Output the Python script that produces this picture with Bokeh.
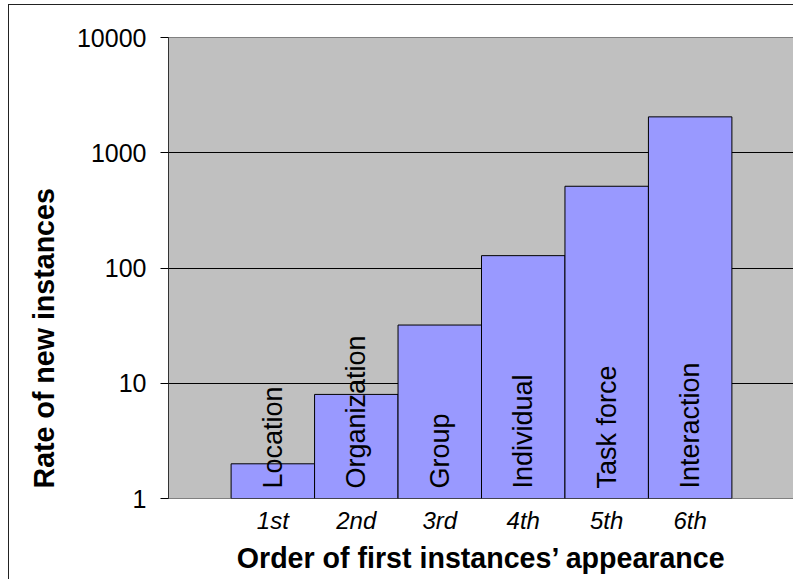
import math
from bokeh.plotting import figure
from bokeh.models import (Range1d, FixedTicker, ColumnDataSource, LabelSet, Title)
from bokeh.core.properties import value
from bokeh.embed import file_html
from bokeh.resources import INLINE

# ---- data ----
orders = ["1st", "2nd", "3rd", "4th", "5th", "6th"]
entities = ["Location", "Organization", "Group", "Individual", "Task force", "Interaction"]
rates = [2, 8, 32, 128, 512, 2048]
y_ticks = [1, 10, 100, 1000, 10000]
y_tick_labels = ["1", "10", "100", "1000", "10000"]
x_title = "Order of first instances\u2019 appearance"
y_title = "Rate of new instances"

positions = list(range(1, len(orders) + 1))
bases = [1] * len(orders)

W, H = 785, 575
FONT = "Liberation Sans"

p = figure(width=W, height=H, output_backend="svg", toolbar_location=None,
           y_axis_type="log",
           x_range=Range1d(-0.25, 7.25), y_range=Range1d(1, 10000),
           min_border_left=159, min_border_right=0,
           min_border_top=32, min_border_bottom=H - 493)
p.background_fill_color = "#C0C0C0"
p.border_fill_color = "white"
p.outline_line_color = "#808080"
p.outline_line_width = 1
p.styles = {"border-left": "1px solid #222222", "border-top": "1px solid #222222",
            "margin-left": "8px", "margin-top": "4px"}

src = ColumnDataSource(dict(x=positions, top=rates, bottom=bases, name=entities))
p.vbar(x="x", top="top", bottom="bottom", width=1.0, source=src,
       fill_color="#9999FF", line_color="black", line_width=1)

labels = LabelSet(x="x", y="bottom", text="name", source=src, angle=math.pi / 2,
                  text_align="left", text_baseline="middle", y_offset=10,
                  text_font=value(FONT), text_font_size=value("27px"),
                  text_color="black")
p.add_layout(labels)

# grid
p.xgrid.visible = False
p.ygrid.ticker = FixedTicker(ticks=y_ticks)
p.ygrid.grid_line_color = "black"
p.ygrid.grid_line_width = 1

# y axis
p.yaxis.ticker = FixedTicker(ticks=y_ticks)
p.yaxis.major_label_overrides = {t: l for t, l in zip(y_ticks, y_tick_labels)}
p.yaxis.axis_line_color = "#333333"
p.yaxis.major_tick_line_color = "black"
p.yaxis.major_tick_out = 8
p.yaxis.major_tick_in = 0
p.yaxis.minor_tick_line_color = None
p.yaxis.major_label_text_font = FONT
p.yaxis.major_label_text_font_size = "25px"
p.yaxis.major_label_text_color = "black"
p.yaxis.major_label_standoff = 14

# x axis
p.xaxis.ticker = FixedTicker(ticks=positions)
p.xaxis.major_label_overrides = {x: o for x, o in zip(positions, orders)}
p.xaxis.axis_line_color = None
p.xaxis.major_tick_line_color = None
p.xaxis.minor_tick_line_color = None
p.xaxis.major_label_text_font = FONT
p.xaxis.major_label_text_font_size = "24px"
p.xaxis.major_label_text_font_style = "italic"
p.xaxis.major_label_text_color = "black"
p.xaxis.major_label_standoff = 2
p.xaxis.axis_label = x_title
p.xaxis.axis_label_text_font = FONT
p.xaxis.axis_label_text_font_size = "28.6px"
p.xaxis.axis_label_text_font_style = "bold"
p.xaxis.axis_label_text_color = "black"
p.xaxis.axis_label_standoff = 5

# y title
yt = Title(text=y_title, align="left", offset=10, text_font=FONT,
           text_font_size="28.6px", text_font_style="bold", text_color="black",
           standoff=27)
p.add_layout(yt, "left")

open("out.html", "w").write(file_html(p, INLINE))
